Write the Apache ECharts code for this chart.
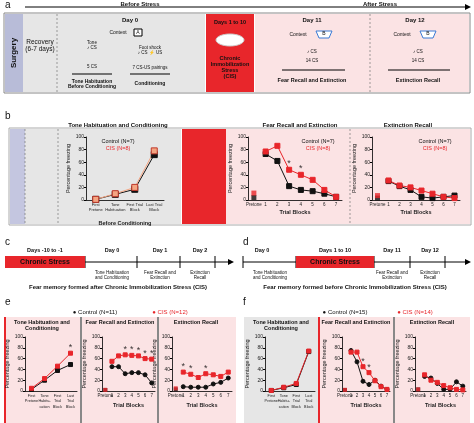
<!DOCTYPE html>
<html><head><meta charset="utf-8">
<script src="https://cdn.jsdelivr.net/npm/echarts@6/dist/echarts.min.js"></script>
<style>body{margin:0}#c{width:474px;height:423px}</style></head>
<body><div id="c"></div>
<script>
const condCats = ['First\nPretone', 'Tone\nHabituation', 'First Trial\nBlock', 'Last Trial\nBlock'];
const condCatsEF = ['First\nPretone', 'Tone\nHabitu-\ncation', 'First\nTrial\nBlock', 'Last\nTrial\nBlock'];
const trialCats = ['Pretone', '1', '2', '3', '4', '5', '6', '7'];

const b1Ctrl = [1, 9, 17, 72], b1Cis = [1, 10, 20, 78];
const b2Ctrl = [4, 73, 62, 22, 16, 14, 10, 5], b2Cis = [11, 77, 86, 48, 40, 32, 16, 5];
const b3Ctrl = [3, 30, 22, 16, 5, 3, 5, 7], b3Cis = [7, 31, 23, 20, 15, 10, 5, 3];
const e1Ctrl = [3, 20, 38, 49], e1Cis = [5, 23, 46, 70];
const e2Ctrl = [2, 45, 45, 32, 34, 34, 30, 15], e2Cis = [2, 55, 65, 67, 66, 65, 60, 59];
const e3Ctrl = [3, 8, 7, 7, 7, 13, 16, 24], e3Cis = [5, 35, 31, 25, 32, 30, 27, 35];
const f1Ctrl = [1, 6, 12, 73], f1Cis = [1, 7, 14, 74];
const f2Ctrl = [2, 75, 54, 18, 12, 20, 9, 3], f2Cis = [2, 72, 72, 45, 34, 19, 8, 3];
const f3Ctrl = [3, 27, 24, 14, 3, 3, 17, 9], f3Cis = [3, 30, 20, 16, 10, 6, 3, 2];
const b2Stars = [3, 4], e1Stars = [3], e2Stars = [3, 4, 5, 6, 7], e3Stars = [1, 2, 4], f2Stars = [3, 4];

const RED = '#e8262b';
var chart = echarts.init(document.getElementById('c'));
var grids = [], xAxes = [], yAxes = [], series = [];

function panel(box, cats, ctrl, cis, stars, opts) {
    const i = grids.length;
    grids.push({left: box[0], top: box[1], width: box[2], height: box[3]});
    xAxes.push({type: 'category', gridIndex: i, data: cats, boundaryGap: true,
        axisLine: {lineStyle: {color: '#000', width: 0.8}}, axisTick: {length: 2, lineStyle: {color: '#000'}},
        name: opts.xname || '', nameLocation: 'middle', nameGap: opts.xgap || 13,
        nameTextStyle: {fontSize: 5.5, fontWeight: 'bold', color: '#222'},
        axisLabel: {fontSize: opts.xfs || 4.5, color: '#222', margin: 2, interval: 0, lineHeight: 5.5}});
    yAxes.push({type: 'value', gridIndex: i, min: 0, max: 100, interval: 20, splitLine: {show: false},
        axisLine: {show: true, lineStyle: {color: '#000', width: 0.8}}, axisTick: {show: true, length: 2},
        name: 'Percentage freezing', nameLocation: 'middle', nameGap: 14,
        nameTextStyle: {fontSize: 5.5, color: '#222'},
        axisLabel: {fontSize: 5, color: '#222', margin: 2}});
    const sep = opts.sep;
    [[ctrl, '#111', opts.ctrlSym || 'rect'], [cis, opts.cisColor || RED, 'rect']].forEach(([d, col, sym]) => {
        series.push({type: 'line', xAxisIndex: i, yAxisIndex: i, symbol: sym, symbolSize: opts.ss || 5,
            data: sep ? d.map((v, k) => k === 0 ? '-' : v) : d,
            lineStyle: {color: col, width: 1}, itemStyle: {color: col, borderColor: opts.border && col !== '#111' ? '#c0392b' : col},
            silent: true});
        if (sep) series.push({type: 'scatter', xAxisIndex: i, yAxisIndex: i, symbol: 'rect', symbolSize: opts.ss || 5,
            data: [[0, d[0]]], itemStyle: {color: col}, silent: true});
    });
    if (stars.length) series.push({type: 'scatter', xAxisIndex: i, yAxisIndex: i, symbolSize: 0,
        data: stars.map(k => [k, Math.max(ctrl[k], cis[k]) + 10]),
        label: {show: true, formatter: '*', position: 'inside', fontSize: 9, color: '#000'}, silent: true});
}

panel([86, 137, 78, 63], condCats, b1Ctrl, b1Cis, [], {cisColor: '#f4a582', border: true, xname: 'Before Conditioning', xgap: 20, ss: 6, xfs: 4});
panel([248, 137, 94, 63], trialCats, b2Ctrl, b2Cis, b2Stars, {sep: true, xname: 'Trial Blocks', xgap: 9});
panel([372, 137, 88, 63], trialCats, b3Ctrl, b3Cis, [], {sep: true, xname: 'Trial Blocks', xgap: 9});
panel([25, 337, 52, 54], condCatsEF, e1Ctrl, e1Cis, e1Stars, {xfs: 3.8, ss: 4});
panel([102, 337, 53, 54], trialCats, e2Ctrl, e2Cis, e2Stars, {sep: true, xname: 'Trial Blocks', xgap: 11, ss: 4, ctrlSym: 'circle'});
panel([172, 337, 60, 54], trialCats, e3Ctrl, e3Cis, e3Stars, {sep: true, xname: 'Trial Blocks', xgap: 11, ss: 4, ctrlSym: 'circle'});
panel([265, 337, 50, 54], condCatsEF, f1Ctrl, f1Cis, [], {xfs: 3.8, ss: 4});
panel([342, 337, 48, 54], trialCats, f2Ctrl, f2Cis, f2Stars, {sep: true, xname: 'Trial Blocks', xgap: 11, ss: 4, ctrlSym: 'circle'});
panel([415, 337, 51, 54], trialCats, f3Ctrl, f3Cis, [], {sep: true, xname: 'Trial Blocks', xgap: 11, ss: 4, ctrlSym: 'circle'});

function rect(x, y, w, h, fill, stroke, z) {
    return {type: 'rect', shape: {x, y, width: w, height: h}, style: {fill, stroke: stroke || null, lineWidth: 1}, z: z || 0, silent: true};
}
function txt(x, y, t, size, opts, rot) {
    return {type: 'text', x, y, z: 6, rotation: rot || 0, silent: true, style: Object.assign({text: t, fontSize: size, fill: '#111',
        fontFamily: 'Liberation Sans', textAlign: 'center', textVerticalAlign: 'middle'}, opts || {})};
}
function line(x1, y1, x2, y2, col, w, dash) {
    return {type: 'line', shape: {x1, y1, x2, y2}, style: {stroke: col || '#000', lineWidth: w || 1, lineDash: dash || null}, z: 4, silent: true};
}
function arrowHead(x, y) {
    return {type: 'polygon', shape: {points: [[x, y - 3], [x + 6, y], [x, y + 3]]}, style: {fill: '#000'}, z: 4, silent: true};
}
const B = {fontWeight: 'bold'};
const R = {fill: RED};
const g = [
    // panel a
    txt(5, 5, 'a', 10, {textAlign: 'left'}),
    line(25, 7, 465, 7, '#000', 1), arrowHead(465, 7),
    txt(140, 4, 'Before Stress', 6, B), txt(380, 4, 'After Stress', 6, B),
    rect(4, 13, 466, 80, '#fff', '#888'),
    rect(5, 14, 18, 78, '#b8bcd8'), txt(14, 53, 'Surgery', 8, B, Math.PI / 2),
    rect(23, 14, 182, 78, '#e6e6e6'),
    line(57, 14, 57, 92, '#777', 0.7, [2, 2]),
    txt(40, 46, 'Recovery\n(6-7 days)', 6.5),
    txt(130, 20, 'Day 0', 6, B), txt(118, 33, 'Context', 5), rect(134, 29, 8, 7, '#fff', '#000', 5), txt(138, 33, 'A', 5),
    txt(92, 45, 'Tone\n♪ CS', 4.5), txt(92, 67, '5 CS', 4.5), txt(150, 50, 'Foot shock\n♪ CS ⚡ US', 4.5), txt(150, 68, '7 CS-US pairings', 4.5),
    line(72, 74, 112, 74, '#000', 1), line(130, 74, 170, 74, '#000', 1),
    txt(92, 84, 'Tone Habituation\nBefore Conditioning', 5, B), txt(150, 84, 'Conditioning', 5, B),
    rect(206, 14, 48, 78, RED),
    txt(230, 22, 'Days 1 to 10', 5.5, B),
    {type: 'ellipse', shape: {cx: 230, cy: 40, rx: 14, ry: 6}, style: {fill: '#fff', stroke: '#ccc'}, z: 4, silent: true},
    txt(230, 67, 'Chronic\nImmobilization\nStress\n(CIS)', 5.5, B),
    rect(255, 14, 214, 78, '#fbe3e4'),
    line(370, 14, 370, 92, '#777', 0.7, [2, 2]),
    txt(312, 20, 'Day 11', 6, B), txt(415, 20, 'Day 12', 6, B),
    txt(298, 35, 'Context', 5), {type: 'polygon', shape: {points: [[316, 31], [332, 31], [329, 38], [319, 38]]}, style: {fill: '#fff', stroke: '#3a7bd5'}, z: 4, silent: true}, txt(324, 34, 'B', 5),
    txt(402, 35, 'Context', 5), {type: 'polygon', shape: {points: [[420, 31], [436, 31], [433, 38], [423, 38]]}, style: {fill: '#fff', stroke: '#3a7bd5'}, z: 4, silent: true}, txt(428, 34, 'B', 5),
    txt(312, 52, '♪ CS', 4.5), txt(312, 61, '14 CS', 4.5), txt(418, 52, '♪ CS', 4.5), txt(418, 61, '14 CS', 4.5),
    line(282, 70, 345, 70, '#000', 1), line(388, 70, 450, 70, '#000', 1),
    txt(312, 80, 'Fear Recall and Extinction', 5.5, B), txt(418, 80, 'Extinction Recall', 5.5, B),
    // panel b
    txt(5, 116, 'b', 10, {textAlign: 'left'}),
    rect(9, 128, 462, 97, '#fff', '#aaa'),
    rect(10, 129, 15, 95, '#c4c6e0'), rect(25, 129, 156, 95, '#e6e6e6'),
    line(25, 129, 25, 224, '#777', 0.7, [2, 2]), line(58, 129, 58, 224, '#777', 0.7, [2, 2]),
    rect(182, 129, 44, 95, RED), rect(226, 129, 244, 95, '#fbe3e4'),
    line(350, 129, 350, 224, '#777', 0.7, [2, 2]),
    txt(118, 125, 'Tone Habituation and Conditioning', 6, B),
    txt(300, 125, 'Fear Recall and Extinction', 6, B), txt(408, 125, 'Extinction Recall', 6, B),
    txt(118, 141, 'Control (N=7)', 5.5), txt(118, 148, 'CIS (N=8)', 5.5, R),
    txt(318, 141, 'Control (N=7)', 5.5), txt(318, 148, 'CIS (N=8)', 5.5, R),
    txt(435, 141, 'Control (N=7)', 5.5), txt(435, 148, 'CIS (N=8)', 5.5, R),
    // panel c
    txt(5, 242, 'c', 10, {textAlign: 'left'}),
    line(85, 262, 228, 262, '#000', 1), arrowHead(228, 262),
    rect(5, 256, 80, 12, RED, null, 5), txt(45, 262, 'Chronic Stress', 7, B),
    line(85, 256, 85, 268), line(137, 256, 137, 268), line(180, 256, 180, 268), line(215, 256, 215, 268),
    txt(45, 250, 'Days -10 to -1', 5.5, B), txt(112, 250, 'Day 0', 5.5, B), txt(160, 250, 'Day 1', 5.5, B), txt(200, 250, 'Day 2', 5.5, B),
    txt(112, 275, 'Tone Habituation\nand Conditioning', 4.5), txt(160, 275, 'Fear Recall and\nExtinction', 4.5), txt(200, 275, 'Extinction\nRecall', 4.5),
    txt(118, 287, 'Fear memory formed after Chronic Immobilization Stress (CIS)', 6, B),
    // panel d
    txt(243, 242, 'd', 10, {textAlign: 'left'}),
    line(243, 262, 465, 262, '#000', 1), arrowHead(465, 262),
    rect(296, 256, 78, 12, RED, null, 5), txt(335, 262, 'Chronic Stress', 7, B),
    line(243, 256, 243, 268), line(296, 256, 296, 268), line(374, 256, 374, 268), line(410, 256, 410, 268), line(445, 256, 445, 268),
    txt(262, 250, 'Day 0', 5.5, B), txt(335, 250, 'Days 1 to 10', 5.5, B), txt(392, 250, 'Day 11', 5.5, B), txt(430, 250, 'Day 12', 5.5, B),
    txt(270, 275, 'Tone Habituation\nand Conditioning', 4.5), txt(392, 275, 'Fear Recall and\nExtinction', 4.5), txt(430, 275, 'Extinction\nRecall', 4.5),
    txt(355, 287, 'Fear memory formed before Chronic Immobilization Stress (CIS)', 6, B),
    // panels e, f
    txt(5, 302, 'e', 10, {textAlign: 'left'}), txt(243, 302, 'f', 10, {textAlign: 'left'}),
    rect(4, 317, 232, 106, '#fbe3e4'), rect(4, 317, 2, 106, RED),
    rect(80, 317, 2, 106, '#888'), rect(157, 317, 2, 106, '#888'),
    rect(244, 317, 74, 106, '#e6e6e6'), rect(318, 317, 152, 106, '#fbe3e4'),
    rect(318, 317, 2, 106, RED), rect(393, 317, 2, 106, '#888'),
    txt(95, 312, '● Control (N=11)', 6), txt(170, 312, '● CIS (N=12)', 6, R),
    txt(345, 312, '● Control (N=15)', 6), txt(415, 312, '● CIS (N=14)', 6, R),
    txt(42, 325, 'Tone Habituation and\nConditioning', 5.5, B), txt(120, 322, 'Fear Recall and Extinction', 5.5, B), txt(196, 322, 'Extinction Recall', 5.5, B),
    txt(281, 325, 'Tone Habituation and\nConditioning', 5.5, B), txt(356, 322, 'Fear Recall and Extinction', 5.5, B), txt(432, 322, 'Extinction Recall', 5.5, B)
];

chart.setOption({animation: false, backgroundColor: '#fff', textStyle: {fontFamily: 'Liberation Sans'},
    graphic: {elements: g}, grid: grids, xAxis: xAxes, yAxis: yAxes, series: series});
</script></body></html>
